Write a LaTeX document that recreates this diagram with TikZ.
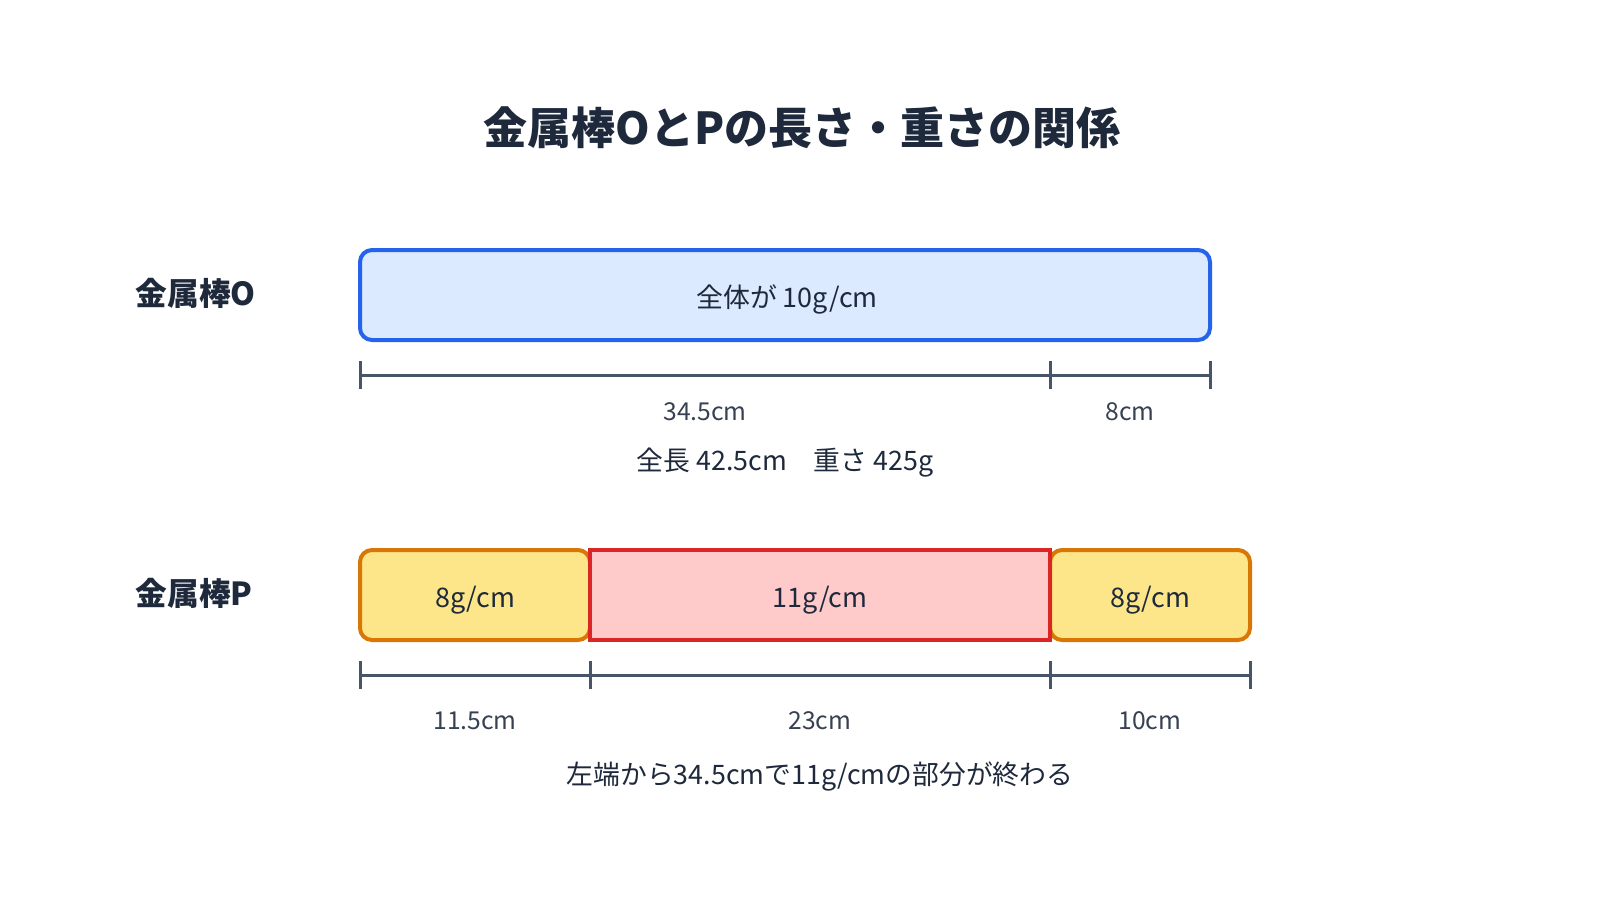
\documentclass[tikz,border=0pt]{standalone}
\usepackage{fontspec}
\setmainfont{Noto Sans CJK JP}
\usepackage{xcolor}
\definecolor{ink}{HTML}{1E293B}
\definecolor{dimink}{HTML}{374151}
\definecolor{dimline}{HTML}{475569}
\definecolor{ofill}{HTML}{DBEAFE}
\definecolor{oline}{HTML}{2563EB}
\definecolor{yfill}{HTML}{FDE68A}
\definecolor{yline}{HTML}{D97706}
\definecolor{rfill}{HTML}{FECACA}
\definecolor{rline}{HTML}{DC2626}
\begin{document}
\begin{tikzpicture}[x=0.75pt,y=-0.75pt,
  titletext/.style={font=\fontsize{33}{40}\selectfont\bfseries, text=ink},
  sidelabel/.style={font=\fontsize{23.8}{28}\selectfont\bfseries, text=ink, anchor=west},
  boxtext/.style={font=\fontsize{20.2}{24}\selectfont, text=ink},
  infotext/.style={font=\fontsize{20.1}{24}\selectfont, text=ink},
  dimtext/.style={font=\fontsize{18.5}{22}\selectfont, text=dimink},
  barO/.style={draw=oline, fill=ofill, line width=3pt, rounded corners=9pt},
  barY/.style={draw=yline, fill=yfill, line width=3pt, rounded corners=9pt},
  barR/.style={draw=rline, fill=rfill, line width=3pt},
  dimln/.style={draw=dimline, line width=2.25pt},
]
\useasboundingbox (0,0) rectangle (1600,900);
\fill[white] (0,0) rectangle (1600,900);

\node[titletext] (title) at (802,128) {金属棒OとPの長さ・重さの関係};

% Rod O
\node[sidelabel] (labO) at (131,293) {金属棒O};
\draw[barO] (360,250) rectangle (1210,340);
\node[boxtext] (txtO) at (787,299) {全体が 10g/cm};

\coordinate (o0) at (360,375);
\coordinate (o1) at (1050,375);
\coordinate (o2) at (1210,375);
\draw[dimln] (o0) -- (o2);
\foreach \c in {o0,o1,o2} \draw[dimln] ([yshift=-14*0.75pt]\c) -- ([yshift=14*0.75pt]\c);
\node[dimtext] (dO1) at (705,412) {34.5cm};
\node[dimtext] (dO2) at (1130,412) {8cm};
\node[infotext] (infoO) at (785,463) {全長 42.5cm　重さ 425g};

% Rod P
\node[sidelabel] (labP) at (131,593) {金属棒P};
\draw[barY] (360,550) rectangle (590,640);
\draw[barY] (1050,550) rectangle (1250,640);
\draw[barR] (590,550) rectangle (1050,640);
\node[boxtext] (txtP1) at (475,600) {8g/cm};
\node[boxtext] (txtP2) at (820,600) {11g/cm};
\node[boxtext] (txtP3) at (1150,600) {8g/cm};

\coordinate (p0) at (360,675);
\coordinate (p1) at (590,675);
\coordinate (p2) at (1050,675);
\coordinate (p3) at (1250,675);
\draw[dimln] (p0) -- (p3);
\foreach \c in {p0,p1,p2,p3} \draw[dimln] ([yshift=-14*0.75pt]\c) -- ([yshift=14*0.75pt]\c);
\node[dimtext] (dP1) at (475,721) {11.5cm};
\node[dimtext] (dP2) at (820,721) {23cm};
\node[dimtext] (dP3) at (1150,721) {10cm};
\node[infotext] (infoP) at (820,777) {左端から34.5cmで11g/cmの部分が終わる};
\end{tikzpicture}
\end{document}
